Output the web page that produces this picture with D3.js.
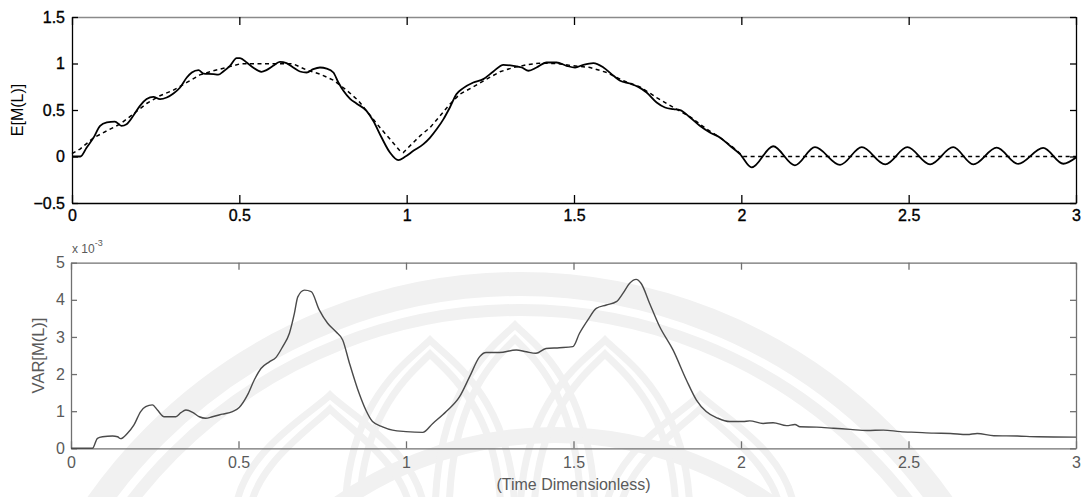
<!DOCTYPE html>
<html>
<head>
<meta charset="utf-8">
<script src="https://cdn.jsdelivr.net/npm/d3@7"></script>
<style>
  html, body { margin: 0; padding: 0; background: #fff; }
  svg { display: block; }
  text { font-family: "Liberation Sans", Arial, sans-serif; }
</style>
</head>
<body>
<svg id="chart" width="1084" height="497"></svg>
<script>
// ---- Mean of M(L): simulated (solid) and reference (dashed) ----
const meanT = [0,0.025,0.044,0.064,0.084,0.104,0.128,0.148,0.163,0.183,0.203,0.223,0.243,0.263,0.283,0.303,0.323,0.343,0.358,0.378,0.393,0.423,0.437,0.452,0.472,0.492,0.502,0.522,0.541,0.566,0.581,0.601,0.621,0.641,0.661,0.681,0.701,0.721,0.741,0.761,0.781,0.796,0.811,0.831,0.850,0.880,0.900,0.925,0.950,0.975,0.995,1.02,1.05,1.07,1.09,1.11,1.129,1.149,1.169,1.199,1.229,1.259,1.289,1.319,1.344,1.364,1.388,1.418,1.448,1.478,1.503,1.528,1.558,1.588,1.618,1.638,1.667,1.692,1.717,1.747,1.772,1.797,1.817,1.847,1.876,1.906,1.936,1.966,1.996,2.031,2.095,2.16,2.22,2.295,2.36,2.43,2.496,2.564,2.633,2.693,2.763,2.827,2.902,2.962,3.0];
const meanSim = [0,0,0.097,0.20,0.33,0.366,0.376,0.33,0.348,0.438,0.545,0.617,0.642,0.617,0.634,0.677,0.742,0.849,0.903,0.929,0.892,0.886,0.88,0.914,0.975,1.058,1.058,1.011,0.957,0.911,0.929,0.975,1.018,1.004,0.957,0.914,0.903,0.94,0.957,0.946,0.903,0.796,0.706,0.62,0.57,0.491,0.384,0.204,0.043,-0.039,-0.003,0.061,0.133,0.204,0.295,0.402,0.527,0.671,0.735,0.796,0.832,0.914,0.986,0.975,0.957,0.922,0.957,1.011,1.011,0.975,0.957,0.986,1.004,0.957,0.868,0.814,0.785,0.749,0.688,0.581,0.527,0.509,0.498,0.419,0.33,0.258,0.204,0.115,0.026,-0.118,0.11,-0.095,0.10,-0.09,0.10,-0.085,0.10,-0.085,0.10,-0.085,0.095,-0.08,0.092,-0.078,-0.01];

const refT = [0,0.024,0.064,0.104,0.143,0.183,0.223,0.263,0.303,0.343,0.382,0.422,0.462,0.502,0.661,0.701,0.741,0.781,0.82,0.856,0.88,0.92,0.95,0.98,0.99,1.015,1.04,1.07,1.1,1.129,1.159,1.199,1.239,1.279,1.319,1.359,1.398,1.448,1.498,1.548,1.598,1.648,1.697,1.747,1.797,1.847,1.896,1.936,1.976,2.006,3.0];
const refVal = [0.03,0.08,0.2,0.276,0.348,0.456,0.57,0.653,0.714,0.796,0.878,0.922,0.957,0.996,0.996,0.93,0.886,0.821,0.714,0.6,0.49,0.312,0.187,0.061,0.043,0.133,0.222,0.312,0.438,0.563,0.671,0.749,0.832,0.911,0.957,0.986,1.004,1.0,0.975,0.957,0.903,0.814,0.749,0.634,0.527,0.427,0.295,0.204,0.097,0.0,0.0];

// ---- Variance of M(L), in units of 1e-3 ----
const varT = [0,0.064,0.079,0.094,0.124,0.139,0.148,0.168,0.188,0.208,0.223,0.243,0.258,0.278,0.313,0.328,0.343,0.363,0.383,0.402,0.422,0.452,0.482,0.502,0.527,0.547,0.567,0.592,0.612,0.632,0.652,0.667,0.677,0.697,0.717,0.741,0.766,0.791,0.811,0.831,0.86,0.88,0.9,0.93,0.96,1.0,1.05,1.08,1.12,1.16,1.19,1.22,1.239,1.279,1.329,1.359,1.388,1.418,1.458,1.498,1.518,1.543,1.568,1.598,1.628,1.648,1.667,1.687,1.702,1.727,1.757,1.797,1.837,1.867,1.896,1.931,1.966,2.006,2.026,2.066,2.096,2.136,2.161,2.176,2.226,2.276,2.326,2.376,2.425,2.475,2.525,2.575,2.625,2.675,2.705,2.755,2.825,2.885,3.0];
const varVal = [0,0,0.27,0.31,0.33,0.31,0.26,0.40,0.63,0.99,1.12,1.17,1.03,0.85,0.85,0.96,1.03,0.97,0.85,0.81,0.85,0.92,0.99,1.1,1.44,1.84,2.15,2.33,2.45,2.74,3.1,3.64,4.08,4.26,4.22,3.73,3.37,3.14,2.92,2.3,1.48,1.03,0.72,0.58,0.49,0.45,0.43,0.67,0.99,1.39,1.93,2.47,2.58,2.58,2.65,2.6,2.56,2.69,2.71,2.74,3.1,3.46,3.77,3.86,3.95,4.18,4.44,4.55,4.44,3.91,3.28,2.65,1.84,1.3,0.99,0.81,0.72,0.72,0.74,0.67,0.69,0.61,0.64,0.58,0.57,0.54,0.51,0.48,0.49,0.45,0.43,0.41,0.40,0.37,0.40,0.34,0.33,0.31,0.30];

// ---- Tick values ----
const xTicks = [0, 0.5, 1, 1.5, 2, 2.5, 3];
const meanTicks = [-0.5, 0, 0.5, 1, 1.5];
const varTicks = [0, 1, 2, 3, 4, 5];

const svg = d3.select("#chart");

// Faint circular emblem printed behind the lower panel
const emblem = svg.append("g").attr("fill", "none").attr("stroke", "#f1f1f1");
emblem.append("circle").attr("cx", 520).attr("cy", 800).attr("r", 516).attr("stroke-width", 24);
emblem.append("circle").attr("cx", 520).attr("cy", 800).attr("r", 490).attr("stroke-width", 12);
emblem.append("circle").attr("cx", 555).attr("cy", 810).attr("r", 375).attr("stroke-width", 16);
const petals = [[330, 395, 95], [430, 340, 85], [515, 325, 80], [605, 340, 85], [700, 395, 95]];
petals.forEach(([cx, tp, hw]) => {
  [0, 14].forEach(inset => {
    const t = tp + inset, w = hw - inset;
    emblem.append("path")
      .attr("stroke-width", 7)
      .attr("d", `M${cx - w},520 C${cx - w},${t + 60} ${cx - 20},${t + 20} ${cx},${t} C${cx + 20},${t + 20} ${cx + w},${t + 60} ${cx + w},520`);
  });
});

// ---- Upper panel ----
const xTop = d3.scaleLinear().domain([0, 3]).range([72, 1076]);
const yTop = d3.scaleLinear().domain([-0.5, 1.5]).range([203, 17]);

const upper = svg.append("g");
const black = "#000";

upper.append("g").attr("transform", `translate(0,${yTop(-0.5)})`)
  .call(d3.axisBottom(xTop).tickValues(xTicks).tickFormat(d3.format("")).tickSizeInner(-8).tickSizeOuter(0).tickPadding(7));
const upperTopAxis = upper.append("g").attr("transform", `translate(0,${yTop(1.5)})`)
  .call(d3.axisTop(xTop).tickValues(xTicks).tickFormat("").tickSizeInner(-8).tickSizeOuter(0));
upper.append("g").attr("transform", `translate(${xTop(0)},0)`)
  .call(d3.axisLeft(yTop).tickValues(meanTicks).tickFormat(d3.format("")).tickSizeInner(-6).tickSizeOuter(0).tickPadding(7));
upper.append("g").attr("transform", `translate(${xTop(3)},0)`)
  .call(d3.axisRight(yTop).tickValues(meanTicks).tickFormat("").tickSizeInner(-6).tickSizeOuter(0));

upper.selectAll(".domain, .tick line").attr("stroke", black).attr("stroke-width", 1.3);
upper.selectAll(".tick text").attr("fill", black).attr("font-size", 16)
  .attr("stroke", black).attr("stroke-width", 0.35);
// upper border drawn in grey
upperTopAxis.select(".domain").attr("stroke", "#8a8a8a");

upper.append("text")
  .attr("transform", `translate(23,${(yTop(-0.5) + yTop(1.5)) / 2}) rotate(-90)`)
  .attr("text-anchor", "middle").attr("font-size", 16).attr("fill", black)
  .text("E[M(L)]");

upper.append("path")
  .attr("d", d3.line().x(d => xTop(d[0])).y(d => yTop(d[1]))(d3.zip(refT, refVal)))
  .attr("fill", "none").attr("stroke", black).attr("stroke-width", 1.5).attr("stroke-dasharray", "4,3.5");
upper.append("path")
  .attr("d", d3.line().curve(d3.curveMonotoneX).x(d => xTop(d[0])).y(d => yTop(d[1]))(d3.zip(meanT, meanSim)))
  .attr("fill", "none").attr("stroke", black).attr("stroke-width", 1.8).attr("stroke-linejoin", "round");

// ---- Lower panel ----
const xBot = d3.scaleLinear().domain([0, 3]).range([71, 1076]);
const yBot = d3.scaleLinear().domain([0, 5]).range([448.3, 262.7]);
const grey = "#5a5a5a";

const lower = svg.append("g");
lower.append("g").attr("transform", `translate(0,${yBot(0)})`)
  .call(d3.axisBottom(xBot).tickValues(xTicks).tickFormat(d3.format("")).tickSizeInner(-7).tickSizeOuter(0).tickPadding(8));
lower.append("g").attr("transform", `translate(0,${yBot(5)})`)
  .call(d3.axisTop(xBot).tickValues(xTicks).tickFormat("").tickSizeInner(-7).tickSizeOuter(0));
lower.append("g").attr("transform", `translate(${xBot(0)},0)`)
  .call(d3.axisLeft(yBot).tickValues(varTicks).tickFormat(d3.format("")).tickSizeInner(-6).tickSizeOuter(0).tickPadding(6));
lower.append("g").attr("transform", `translate(${xBot(3)},0)`)
  .call(d3.axisRight(yBot).tickValues(varTicks).tickFormat("").tickSizeInner(-6).tickSizeOuter(0));

lower.selectAll(".domain, .tick line").attr("stroke", "#707070").attr("stroke-width", 1.3);
lower.selectAll(".tick text").attr("fill", grey).attr("font-size", 16);

const expo = lower.append("text").attr("x", 72).attr("y", 253).attr("fill", grey).attr("font-size", 12);
expo.append("tspan").text("x 10");
expo.append("tspan").attr("dy", -7).attr("font-size", 9).text("-3");

lower.append("text")
  .attr("transform", `translate(44,${(yBot(0) + yBot(5)) / 2}) rotate(-90)`)
  .attr("text-anchor", "middle").attr("font-size", 16.5).attr("fill", grey)
  .text("VAR[M(L)]");

lower.append("text")
  .attr("x", (xBot(0) + xBot(3)) / 2).attr("y", 490)
  .attr("text-anchor", "middle").attr("font-size", 16).attr("fill", grey)
  .text("(Time Dimensionless)");

lower.append("path")
  .attr("d", d3.line().curve(d3.curveMonotoneX).x(d => xBot(d[0])).y(d => yBot(d[1]))(d3.zip(varT, varVal)))
  .attr("fill", "none").attr("stroke", "#4a4a4a").attr("stroke-width", 1.4).attr("stroke-linejoin", "round");
</script>
</body>
</html>
